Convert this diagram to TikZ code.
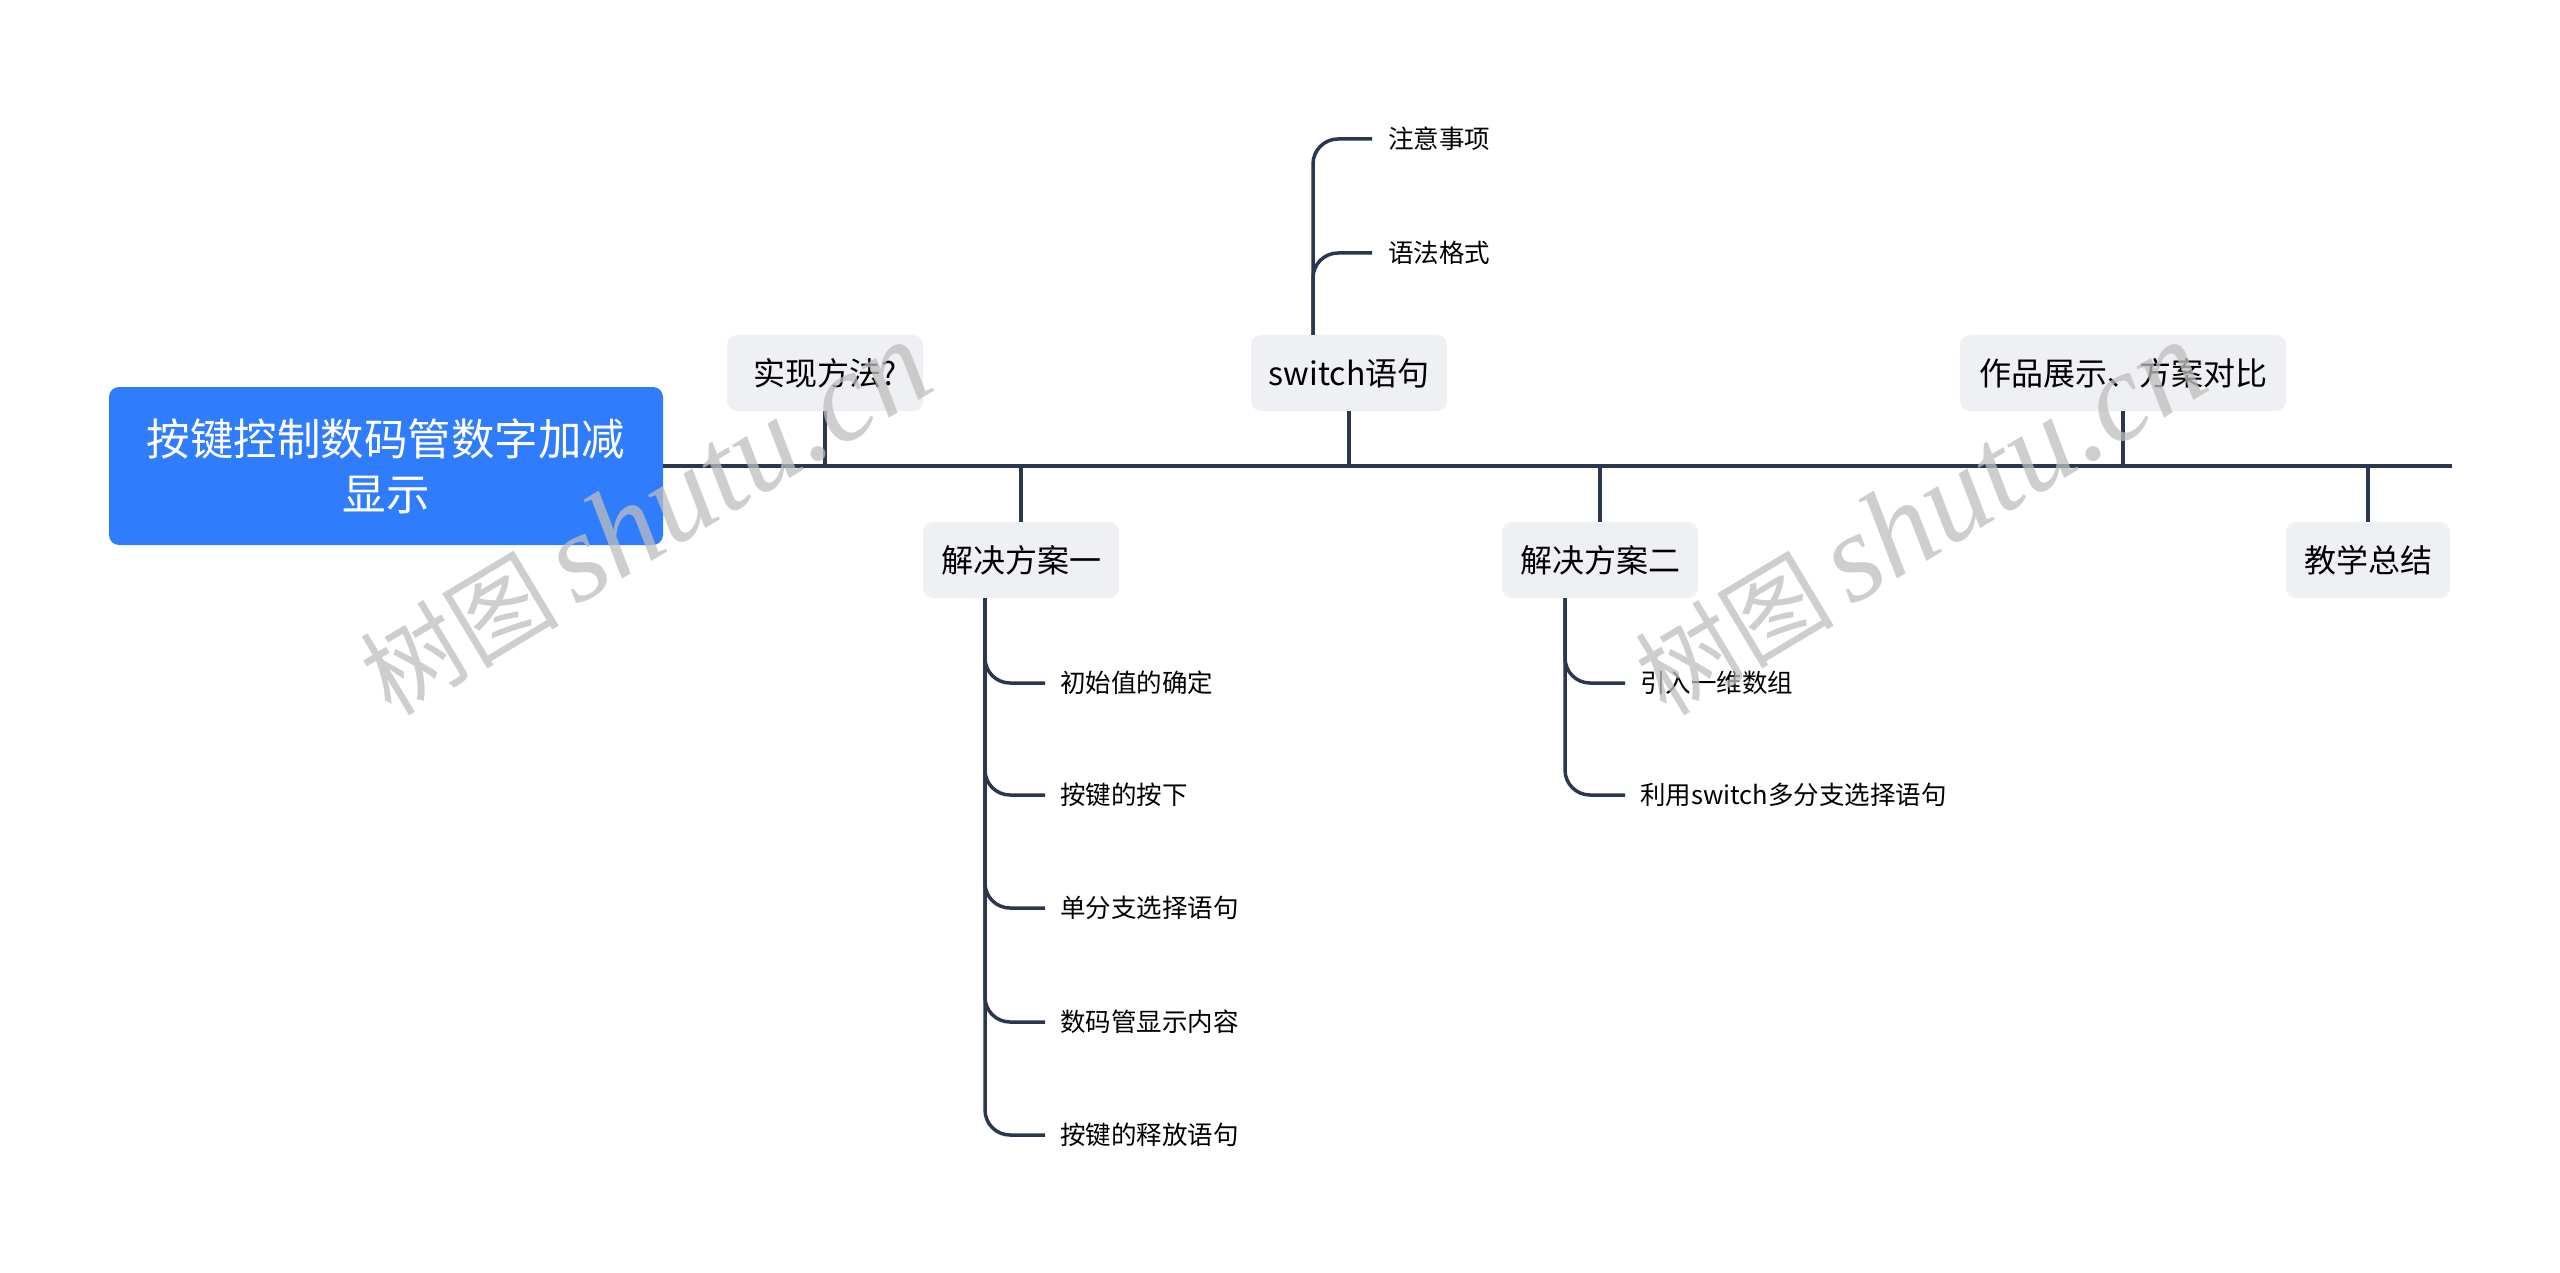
\documentclass[tikz,border=0pt]{standalone}
\usepackage{fontspec}
\setmainfont{Noto Sans CJK SC}
\newfontfamily\wmserif{Liberation Serif}
\definecolor{rootblue}{RGB}{47,124,252}
\definecolor{boxgray}{RGB}{238,240,243}
\definecolor{linecol}{RGB}{42,55,77}
\definecolor{wmgray}{RGB}{190,190,190}
\begin{document}
\begin{tikzpicture}[x=1pt,y=-1pt,
  rootbox/.style={fill=rootblue,rounded corners=10pt,minimum width=554pt,minimum height=158pt,
    text=white,align=center,inner sep=0pt,font=\fontsize{43.5}{55}\selectfont},
  topicbox/.style={fill=boxgray,rounded corners=10pt,minimum height=76pt,inner sep=0pt,
    text=black,font=\fontsize{32}{38}\selectfont},
  leaf/.style={anchor=west,inner sep=0pt,text=black,font=\fontsize{25.5}{30}\selectfont},
  mainline/.style={draw=linecol,line width=4pt},
  branch/.style={draw=linecol,line width=3.5pt,rounded corners=25pt},
  wmark/.style={text=wmgray,opacity=0.75,rotate=31,inner sep=0pt}
]
\useasboundingbox (0,0) rectangle (2560,1273);

% root and main line
\node[rootbox] (root) at (386,466) {按键控制数码管数字加减\\显示};
\coordinate (mainend) at (2452,466);
\draw[mainline] (root.east) -- (mainend);

% topics
\node[topicbox,minimum width=196pt] (n1) at (825,373) {实现方法?};
\node[topicbox,minimum width=196pt] (n2) at (1021,560) {解决方案一};
\node[topicbox,minimum width=196pt] (n3) at (1349,373) {switch语句};
\node[topicbox,minimum width=196pt] (n4) at (1600,560) {解决方案二};
\node[topicbox,minimum width=326pt] (n5) at (2123,373) {作品展示、方案对比};
\node[topicbox,minimum width=164pt] (n6) at (2368,560) {教学总结};

\foreach \n in {n1,n3,n5}{\draw[mainline,line width=3.5pt] (\n.south) -- (\n.south |- root.east);}
\foreach \n in {n2,n4,n6}{\draw[mainline,line width=3.5pt] (\n.north) -- (\n.north |- root.east);}

% switch children
\node[leaf] (s1) at (1388,139) {注意事项};
\node[leaf] (s2) at (1388,253) {语法格式};
\coordinate (ts) at (1313,335);
\draw[branch] (ts) |- ([xshift=-16pt]s1.west);
\draw[branch] (ts) |- ([xshift=-16pt]s2.west);

% solution one children
\node[leaf] (a1) at (1060,683) {初始值的确定};
\node[leaf] (a2) at (1060,795) {按键的按下};
\node[leaf] (a3) at (1060,908) {单分支选择语句};
\node[leaf] (a4) at (1060,1022) {数码管显示内容};
\node[leaf] (a5) at (1060,1135) {按键的释放语句};
\coordinate (ta) at (985,598);
\foreach \c in {a1,a2,a3,a4,a5}{\draw[branch] (ta) |- ([xshift=-15pt]\c.west);}

% solution two children
\node[leaf] (b1) at (1640,683) {引入一维数组};
\node[leaf] (b2) at (1640,795) {利用switch多分支选择语句};
\coordinate (tb) at (1565,598);
\foreach \c in {b1,b2}{\draw[branch] (tb) |- ([xshift=-15pt]\c.west);}

% watermarks
\node[wmark] (w1) at (645,519) {\fontsize{100}{104}\selectfont 树图\,{\wmserif\itshape\fontsize{126}{128}\selectfont shutu.cn}};
\node[wmark] (w2) at (1920,519) {\fontsize{100}{104}\selectfont 树图\,{\wmserif\itshape\fontsize{126}{128}\selectfont shutu.cn}};
\end{tikzpicture}
\end{document}
